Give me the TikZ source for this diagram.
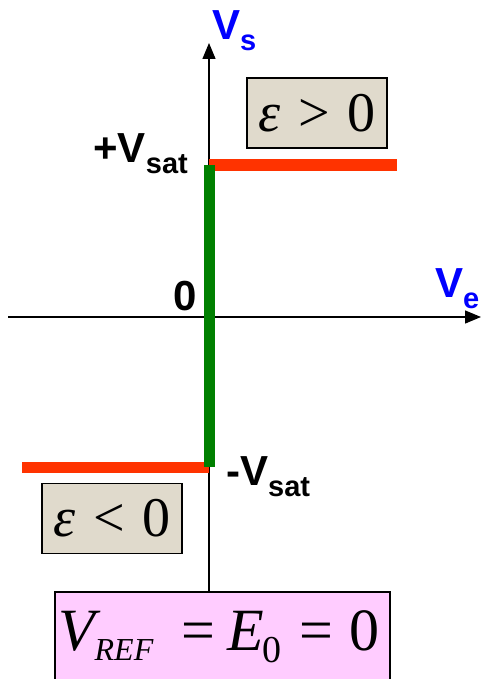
\documentclass[tikz,border=0pt]{standalone}
\usepackage{fontspec}
\setmainfont{Liberation Sans}
\newfontfamily\eqfont{Liberation Serif}
\usetikzlibrary{arrows.meta}
\definecolor{satred}{RGB}{255,51,0}
\definecolor{railgreen}{RGB}{0,128,0}
\definecolor{condbg}{RGB}{224,218,204}
\definecolor{refpink}{RGB}{255,204,255}
\newcommand{\vsub}[2]{\textbf{#1}\raisebox{-11pt}{\fontsize{29}{29}\selectfont\bfseries #2}}
\begin{document}
\begin{tikzpicture}[x=1pt, y=-1pt, >={Triangle[length=16pt,width=13pt]},
  lbl/.style={font=\fontsize{42}{42}\selectfont\bfseries, inner sep=0pt},
  condbox/.style={draw, line width=1.5pt, fill=condbg, minimum width=140pt, minimum height=70pt, inner sep=0pt, font=\eqfont\fontsize{56}{56}\selectfont},
  bar/.style={line width=11pt}]
\path[use as bounding box, clip] (0,0) rectangle (481,679);
% axes
\coordinate (O) at (209,317);
\coordinate (xL) at (8,317);
\coordinate (xR) at (481,317);
\coordinate (yT) at (209,43);
% reference condition box
\node[draw, line width=1.5pt, fill=refpink, anchor=north, minimum width=335pt, inner sep=0pt, text height=59pt, text depth=40pt, font=\eqfont\fontsize{60}{60}\selectfont] (vref) at (222.5,591) {\makebox[335pt][l]{\hspace{3pt}{\itshape V}\raisebox{-10pt}{\fontsize{32}{32}\selectfont\itshape REF}\hspace{28pt}=\hspace{12pt}{\itshape E}\kern-1pt\raisebox{-12pt}{\fontsize{38}{38}\selectfont 0}\hspace{18pt}=\hspace{16pt}0}};
\draw[line width=1.4pt, ->] (xL) -- (xR);
\draw[line width=1.4pt, ->] (vref.north -| O) -- (yT);
% saturation levels
\coordinate (sp) at (209,165);
\coordinate (spR) at (397,165);
\coordinate (sm) at (209,467);
\coordinate (smL) at (22,467);
\draw[bar, satred] (sp) -- (spR);
\draw[bar, satred] (smL) -- (sm);
\draw[bar, railgreen] (sp) -- (sm);
% axis labels
\node[lbl, blue, anchor=base west] (vs) at (212,40) {\vsub{V}{s}};
\node[lbl, blue, anchor=base west] (ve) at (435,297) {\vsub{V}{e}};
\node[lbl, anchor=base east] (zero) at (197,310) {0};
\node[lbl, anchor=base east] (vsatp) at (188,163) {\vsub{+V}{sat}};
\node[lbl, anchor=base west] (vsatm) at (226,485) {\vsub{-V}{sat}};
% sign of epsilon
\node[condbox] (epos) at (317,113) {{\itshape ε}\hspace{18pt}>\hspace{18pt}0};
\node[condbox] (eneg) at (112,518.5) {{\itshape ε}\hspace{18pt}<\hspace{18pt}0};
\end{tikzpicture}
\end{document}
